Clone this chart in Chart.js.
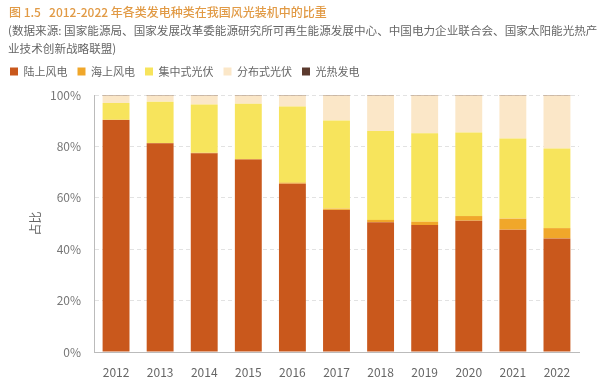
<!DOCTYPE html>
<html>
<head>
<meta charset="utf-8">
<script src="https://cdn.jsdelivr.net/npm/chart.js@4"></script>
<style>
  body { margin: 0; background: #fff; font-family: "Noto Sans CJK SC", "Noto Sans", sans-serif; }
  #wrap { position: relative; width: 600px; height: 384px; }
  #title { position: absolute; left: 9px; top: 3px; font-size: 12px; color: #E19A45; font-weight: 500; white-space: nowrap; }
  #source { position: absolute; left: 8px; top: 21px; font-size: 11.6px; line-height: 18px; color: #666; width: 592px; }
  canvas { position: absolute; left: 0; top: 0; }
</style>
</head>
<body>
<div id="wrap">
  <canvas id="chart" width="600" height="384"></canvas>
  <div id="title">图 1.5&nbsp;&nbsp;&nbsp;2012-2022 年各类发电种类在我国风光装机中的比重</div>
  <div id="source">(数据来源: 国家能源局、国家发展改革委能源研究所可再生能源发展中心、中国电力企业联合会、国家太阳能光热产业技术创新战略联盟)</div>
</div>
<script>
const years = ['2012', '2013', '2014', '2015', '2016', '2017', '2018', '2019', '2020', '2021', '2022'];
const onshoreWind = [90.3, 81.2, 77.3, 74.9, 65.5, 55.3, 50.5, 49.4, 51.1, 47.6, 44.2];
const offshoreWind = [0.1, 0.1, 0.2, 0.2, 0.4, 0.5, 0.9, 1.3, 1.8, 4.3, 4.0];
const centralPV = [6.5, 16.1, 18.8, 21.5, 29.6, 34.3, 34.6, 34.4, 32.5, 31.2, 31.0];
const distributedPV = [2.9, 2.4, 3.5, 3.2, 4.3, 9.7, 13.8, 14.7, 14.4, 16.7, 20.6];
const solarThermal = [0.2, 0.2, 0.2, 0.2, 0.2, 0.2, 0.2, 0.2, 0.2, 0.2, 0.2];
const yTicks = [0, 20, 40, 60, 80, 100];

// extra gap under the legend
const legendGap = {
    id: 'legendGap',
    beforeInit(chart) {
        const fit = chart.legend.fit;
        chart.legend.fit = function () {
            fit.bind(chart.legend)();
            this.height += 8;
        };
    }
};

const ctx = document.getElementById('chart').getContext('2d');
new Chart(ctx, {
    type: 'bar',
    data: {
        labels: years,
        datasets: [
            { label: '陆上风电', data: onshoreWind, backgroundColor: '#C9581C' },
            { label: '海上风电', data: offshoreWind, backgroundColor: '#F0A72A' },
            { label: '集中式光伏', data: centralPV, backgroundColor: '#F7E45C' },
            { label: '分布式光伏', data: distributedPV, backgroundColor: '#FBE7C8' },
            { label: '光热发电', data: solarThermal, backgroundColor: '#5B3A2E' }
        ]
    },
    plugins: [legendGap],
    options: {
        responsive: false,
        animation: false,
        layout: { padding: { top: 56, right: 21, left: 0, bottom: 0 } },
        datasets: { bar: { categoryPercentage: 1, barPercentage: 0.61 } },
        plugins: {
            legend: {
                position: 'top',
                align: 'start',
                labels: {
                    boxWidth: 8,
                    boxHeight: 8,
                    padding: 10,
                    color: '#666',
                    font: { family: '"Noto Sans CJK SC"', size: 11 }
                }
            },
            tooltip: { enabled: false }
        },
        scales: {
            x: {
                stacked: true,
                grid: { display: false },
                border: { color: '#bbb' },
                ticks: { color: '#666', padding: 5, font: { family: '"Noto Sans CJK SC"', size: 12 } },
                afterFit: (axis) => { axis.height = 32; }
            },
            y: {
                stacked: true,
                min: 0,
                max: 100,
                afterBuildTicks: (axis) => { axis.ticks = yTicks.map(v => ({ value: v })); },
                grid: { color: '#e2e2e2', drawTicks: false },
                border: { color: '#bbb', dash: [4, 3] },
                ticks: {
                    color: '#777',
                    padding: 13,
                    font: { family: '"Noto Sans CJK SC"', size: 12 },
                    callback: (v) => v + '%'
                },
                title: {
                    display: true,
                    text: '占比',
                    color: '#666',
                    padding: { top: 28, bottom: 0 },
                    font: { family: '"Noto Sans CJK SC"', size: 12 }
                },
                afterFit: (axis) => { axis.width = 94; }
            }
        }
    }
});
</script>
</body>
</html>
